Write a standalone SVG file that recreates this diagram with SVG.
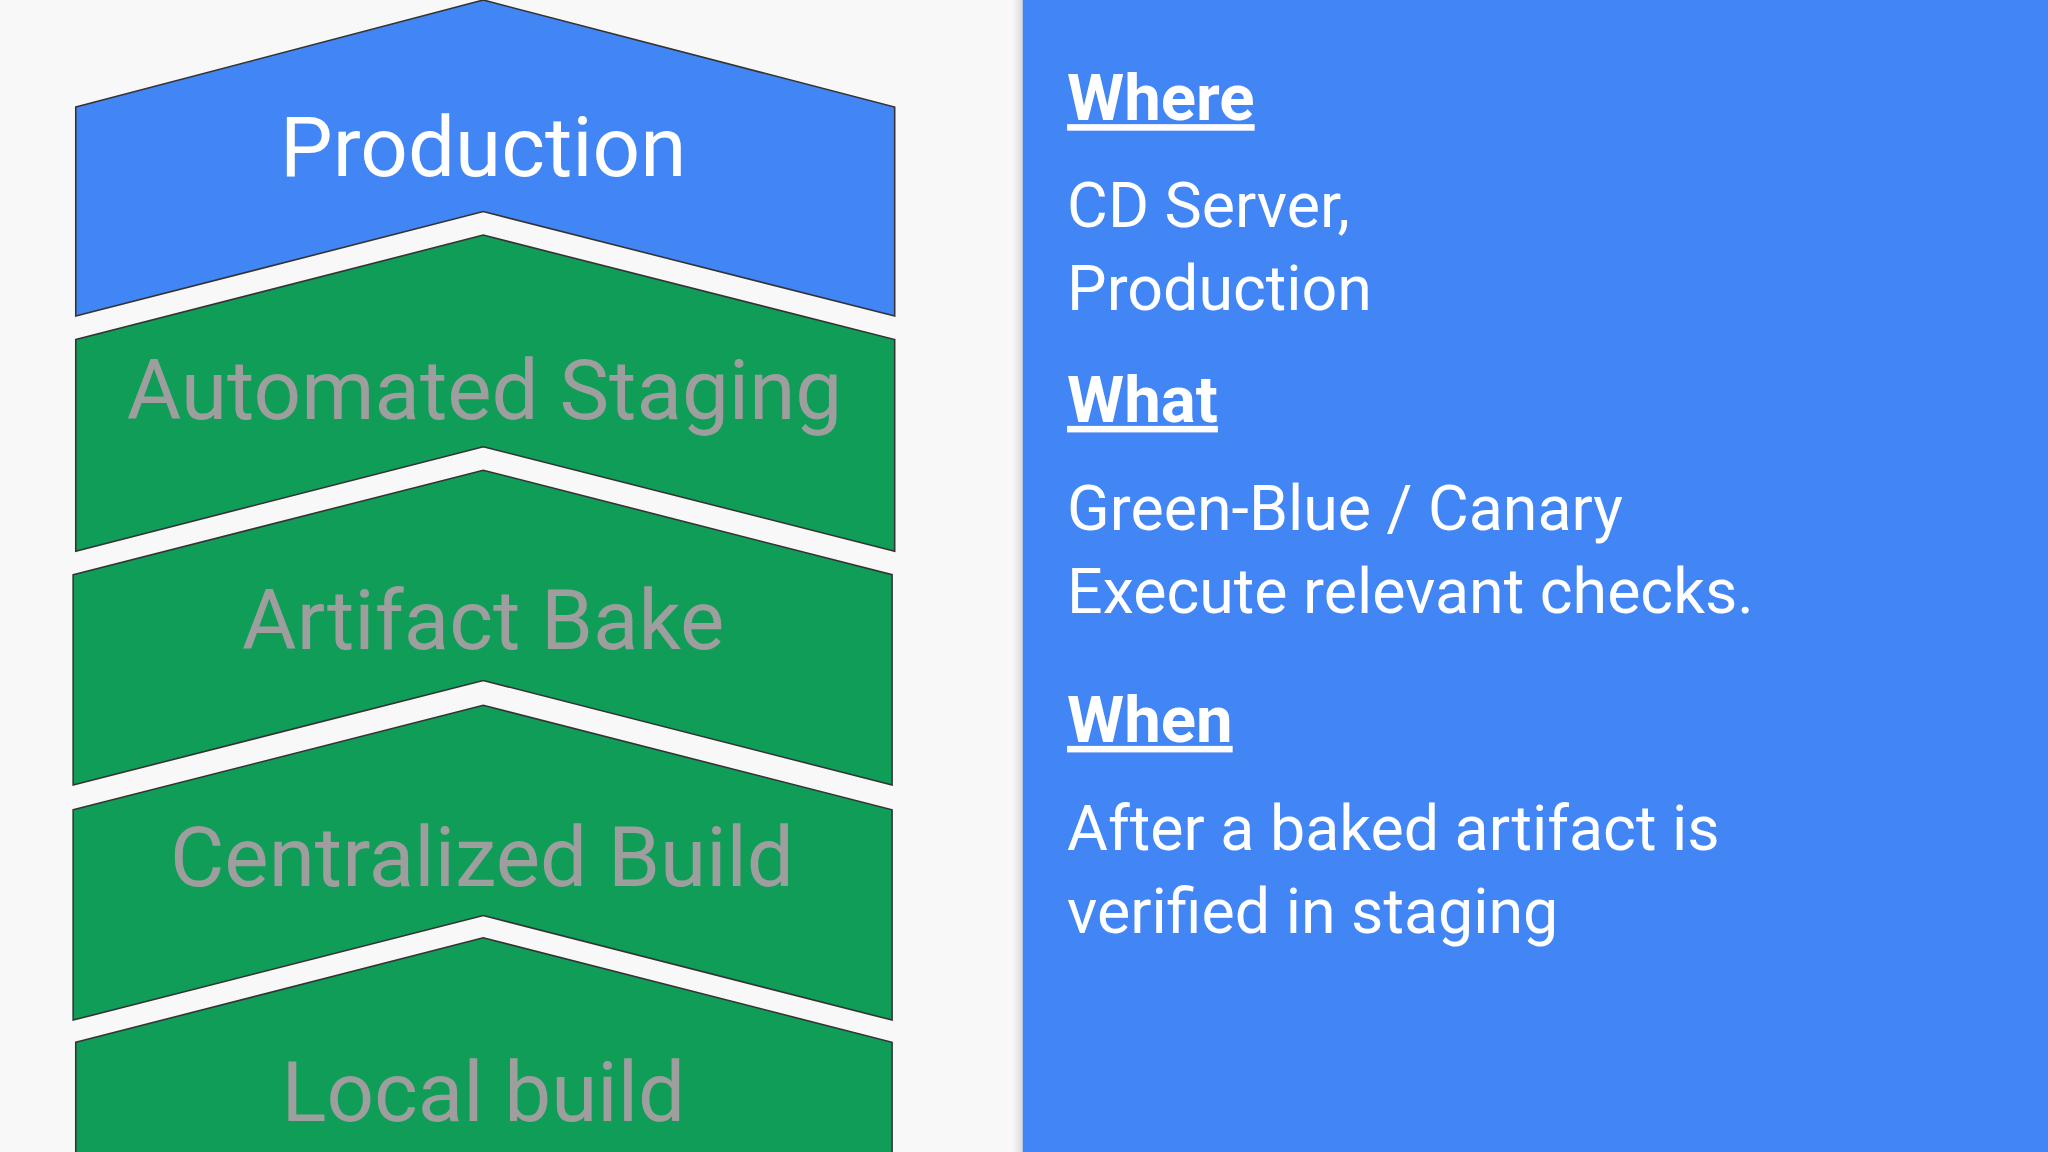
<svg xmlns="http://www.w3.org/2000/svg" width="2048" height="1152" viewBox="0 0 2048 1152">
<style>
.s{stroke:#333;stroke-width:1.2}
.g{fill:#0F9D58}
.lbl{font-family:Roboto,"Liberation Sans",sans-serif;font-size:64px;text-anchor:middle;fill:#9E9E9E}
.h{font-family:Roboto,"Liberation Sans",sans-serif;font-size:50px;font-weight:bold;fill:#fff;text-decoration:underline}
.b{font-family:Roboto,"Liberation Sans",sans-serif;font-size:48px;fill:#fff}
</style>
<defs><linearGradient id="sh" x1="0" x2="1"><stop offset="0" stop-color="#000" stop-opacity="0"/><stop offset="1" stop-color="#000" stop-opacity="0.12"/></linearGradient></defs>
<g transform="scale(1.306122)">
<rect width="1568" height="882" fill="#F8F8F8"/>
<rect x="775" y="0" width="8" height="882" fill="url(#sh)"/>
<rect x="783" y="0" width="785" height="882" fill="#4285F4"/>
<g id="production"><polygon class="s" fill="#4285F4" points="58,82 370,0 685,82 685,242 370,162 58,242"/><text class="lbl" x="370" y="135" style="fill:#fff">Production</text></g>
<g id="staging"><polygon class="s g" points="58,260 370,180 685,260 685,422 370,342 58,422"/><text class="lbl" x="371" y="321">Automated Staging</text></g>
<g id="bake"><polygon class="s g" points="56,440 370,360 683,440 683,601 370,521 56,601"/><text class="lbl" x="370" y="497">Artifact Bake</text></g>
<g id="build"><polygon class="s g" points="56,620 370,540 683,620 683,781 370,701 56,781"/><text class="lbl" x="369" y="678">Centralized Build</text></g>
<g id="local"><polygon class="s g" points="58,798 370,718 683,798 683,884 58,884"/><text class="lbl" x="370" y="858">Local build</text></g>
<g id="info">
<text class="h" x="817" y="92">Where</text>
<text class="b" x="817" y="174">CD Server,</text>
<text class="b" x="817" y="237">Production</text>
<text class="h" x="817" y="323">What</text>
<text class="b" x="817" y="406">Green-Blue / Canary</text>
<text class="b" x="817" y="469">Execute relevant checks.</text>
<text class="h" x="817" y="568">When</text>
<text class="b" x="817" y="651">After a baked artifact is</text>
<text class="b" x="817" y="714">verified in staging</text>
</g>
<g id="connectors"/>
</g>
</svg>
